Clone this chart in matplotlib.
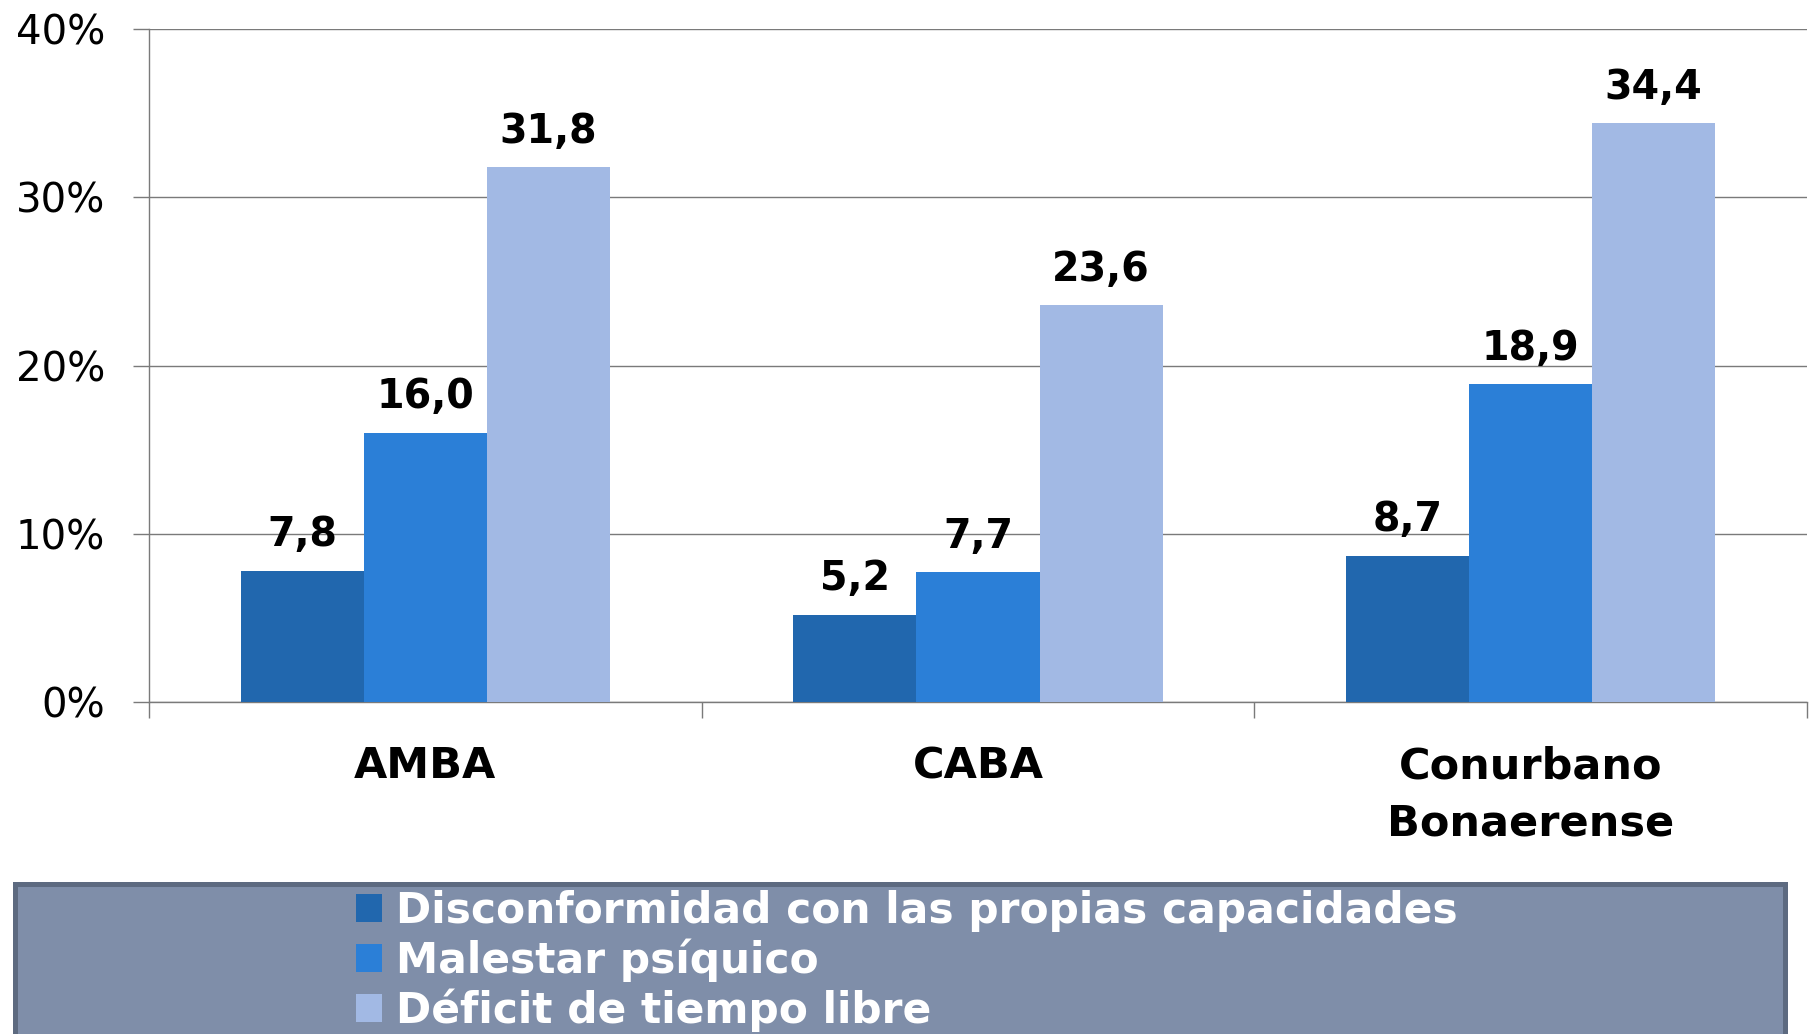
import matplotlib.pyplot as plt
import numpy as np
from matplotlib.patches import Rectangle
from matplotlib.ticker import FixedLocator

# data
regions = ["AMBA", "CABA", "Conurbano\nBonaerense"]
series = [
    "Disconformidad con las propias capacidades",
    "Malestar psíquico",
    "Déficit de tiempo libre",
]
disconformidad = [7.8, 5.2, 8.7]
malestar = [16.0, 7.7, 18.9]
deficit = [31.8, 23.6, 34.4]
yticks = [0, 10, 20, 30, 40]

colors = ["#2167AE", "#2B7FD7", "#A2B9E4"]
grid_color = "#7A7A7A"

plt.rcParams["font.family"] = ["DejaVu Sans"]

fig = plt.figure(figsize=(18.13, 10.34), dpi=100)
ax = fig.add_axes([149 / 1813, 1 - 702 / 1034, (1807 - 149) / 1813, (702 - 29) / 1034])

x = np.arange(len(regions))
width = 0.2226
bars = []
for i, (vals, col, name) in enumerate(zip([disconformidad, malestar, deficit], colors, series)):
    b = ax.bar(x + (i - 1) * width, vals, width, color=col, label=name, linewidth=0, zorder=3)
    bars.append(b)
    for rect, v in zip(b, vals):
        ax.annotate(
            f"{v:.1f}".replace(".", ","),
            (rect.get_x() + rect.get_width() / 2, v),
            xytext=(0, 17.5), textcoords="offset points",
            ha="center", va="baseline", fontsize=28.5, fontweight="bold",
        )

ax.set_xlim(-0.5, 2.5)
ax.set_ylim(0, 40)
ax.set_yticks(yticks)
ax.set_yticklabels([f"{t}%" for t in yticks], fontsize=29)
ax.yaxis.grid(True, color=grid_color, linewidth=1.0, zorder=0)
ax.set_axisbelow(True)

ax.set_xticks(x)
ax.set_xticklabels(regions, fontsize=31, fontweight="bold")
ax.xaxis.set_minor_locator(FixedLocator([-0.5, 0.5, 1.5, 2.5]))
ax.tick_params(axis="x", which="major", length=0, pad=31)
ax.tick_params(axis="x", which="minor", length=11.5, width=1.0, color=grid_color)
ax.tick_params(axis="y", length=11.5, width=1.0, color=grid_color, pad=20)
for lbl in ax.get_xticklabels():
    lbl.set_linespacing(1.48)

for s in ["top", "right"]:
    ax.spines[s].set_visible(False)
for s in ["left", "bottom"]:
    ax.spines[s].set_color(grid_color)
    ax.spines[s].set_linewidth(1.0)

# legend panel
panel = Rectangle(
    (14.5 / 1813, -0.1), (1784.5 - 14.5) / 1813, 1 - 883.5 / 1034 + 0.1,
    transform=fig.transFigure, facecolor="#7F8EA9", edgecolor="#5D6A80",
    linewidth=3.6, zorder=0,
)
fig.patches.append(panel)

leg = fig.legend(
    handles=bars, labels=series, loc="upper left",
    bbox_to_anchor=(356 / 1813, 1 - 890 / 1034), frameon=False,
    fontsize=30.5, handlelength=0.62, handleheight=0.62, handletextpad=0.33,
    labelspacing=0.15, borderpad=0, borderaxespad=0,
)
for t in leg.get_texts():
    t.set_color("white")
    t.set_fontweight("bold")

fig.savefig("out.png", dpi=100)
